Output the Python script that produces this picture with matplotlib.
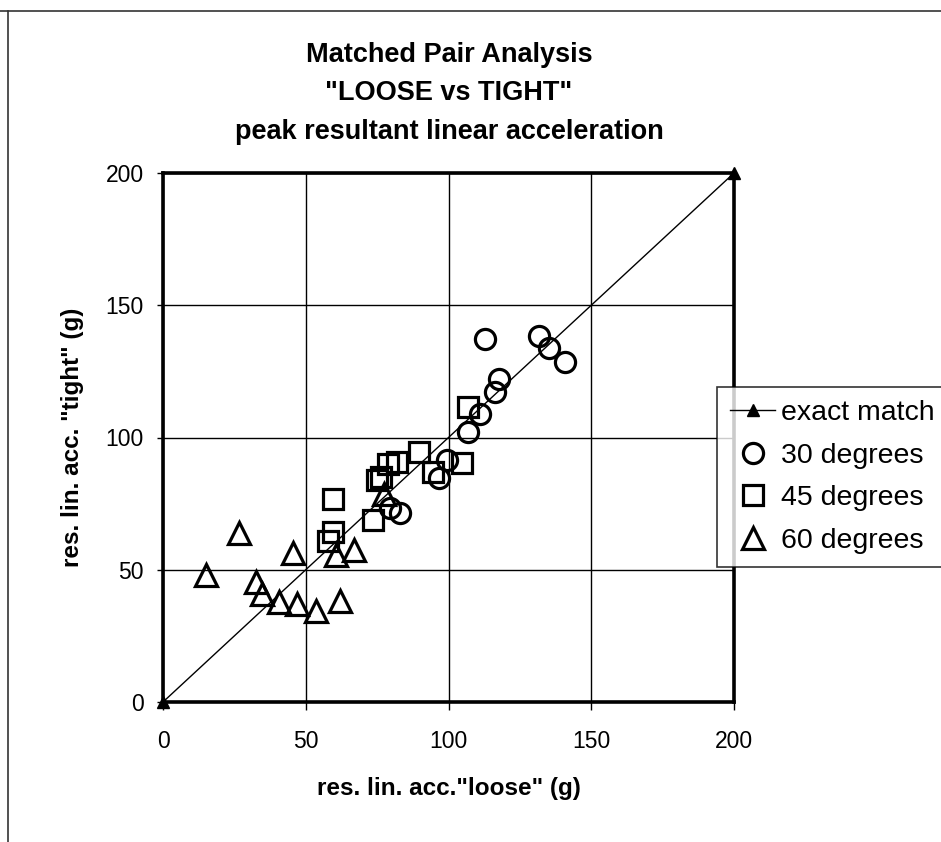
import matplotlib
matplotlib.use("Agg")
import matplotlib.pyplot as plt
from matplotlib.lines import Line2D

# ---- data ----
match_x = [0, 200]
match_y = [0, 200]

deg30_x = [112.8, 131.8, 135.3, 140.8, 117.7, 116.3, 111.0, 106.7, 99.4, 96.7, 79.5, 83.0]
deg30_y = [137.1, 138.4, 133.7, 128.4, 122.1, 117.3, 108.8, 101.9, 91.5, 84.8, 73.5, 71.5]

deg45_x = [59.4, 59.7, 57.9, 73.7, 75.0, 76.2, 78.9, 81.8, 89.8, 94.7, 104.6, 106.9]
deg45_y = [76.6, 64.4, 61.0, 68.8, 84.0, 85.0, 89.9, 90.6, 94.6, 87.0, 90.4, 111.6]

deg60_x = [15.1, 26.5, 32.6, 34.6, 40.7, 45.4, 46.8, 53.5, 60.6, 62.0, 67.0, 77.5]
deg60_y = [48.0, 63.8, 45.5, 40.8, 37.7, 56.2, 37.0, 34.5, 55.6, 38.3, 57.4, 78.5]

ticks = [0, 50, 100, 150, 200]

title = 'Matched Pair Analysis\n"LOOSE vs TIGHT"\npeak resultant linear acceleration'
xlabel = 'res. lin. acc."loose" (g)'
ylabel = 'res. lin. acc. "tight" (g)'

# ---- figure ----
W, H = 941, 842
fig = plt.figure(figsize=(W / 100, H / 100), dpi=100)
fig.patch.set_facecolor("white")
plt.rcParams['font.family'] = ['Liberation Sans', 'DejaVu Sans']
bold_font = ['Liberation Sans', 'DejaVu Sans']

L, R, T, B = 163, 734, 173, 702
ax = fig.add_axes([L / W, 1 - B / H, (R - L) / W, (B - T) / H])
ax.set_xlim(0, 200)
ax.set_ylim(0, 200)
ax.set_xticks(ticks)
ax.set_yticks(ticks)
ax.grid(True, color="black", linewidth=1.0)
ax.set_axisbelow(True)
for s in ax.spines.values():
    s.set_linewidth(2.6)
    s.set_color("black")
ax.tick_params(axis="x", length=6, width=1, pad=14, labelsize=16.5, direction="out")
ax.tick_params(axis="y", length=4, width=1, pad=10, labelsize=16.5, direction="out")

ms = 14.5
mew = 2.3
ax.plot(match_x, match_y, color="black", lw=1.0, marker="^", ms=8,
        markerfacecolor="black", markeredgecolor="black", label="exact match",
        clip_on=False, zorder=3)
ax.plot(deg30_x, deg30_y, ls="none", marker="o", ms=ms, mfc="none", mec="black",
        mew=mew, label="30 degrees", zorder=4)
ax.plot(deg45_x, deg45_y, ls="none", marker="s", ms=ms, mfc="none", mec="black",
        mew=mew, label="45 degrees", zorder=4)
ax.plot(deg60_x, deg60_y, ls="none", marker="^", ms=ms + 1, mfc="none", mec="black",
        mew=mew, label="60 degrees", zorder=4)

fig.text(449 / W, 1 - 42 / H, title, ha="center", va="top", fontsize=19.5,
         fontweight="bold", family=bold_font, linespacing=1.62)
fig.text(449 / W, 1 - 789 / H, xlabel, ha="center", va="center", fontsize=17.5,
         fontweight="bold", family=bold_font)
fig.text(72 / W, 1 - 437 / H, ylabel, ha="center", va="center", fontsize=17.5,
         fontweight="bold", family=bold_font, rotation=90)

leg = ax.legend(loc="upper left", bbox_to_anchor=(717 / W, 1 - 387 / H),
                bbox_transform=fig.transFigure, borderaxespad=0, frameon=True,
                fancybox=False, shadow=False, fontsize=20.5, handlelength=1.6,
                handletextpad=0.2, labelspacing=0.59, borderpad=0.45,
                numpoints=1, markerscale=1.0)
leg.get_frame().set_edgecolor("black")
leg.get_frame().set_linewidth(1.2)
leg.set_zorder(10)

# page border lines
fig.add_artist(Line2D([0, 1], [1 - 11 / H, 1 - 11 / H], transform=fig.transFigure,
                      color="#333333", lw=1.2))
fig.add_artist(Line2D([8 / W, 8 / W], [0, 1 - 11 / H], transform=fig.transFigure,
                      color="#333333", lw=1.2))

fig.savefig("out.png", dpi=100)
